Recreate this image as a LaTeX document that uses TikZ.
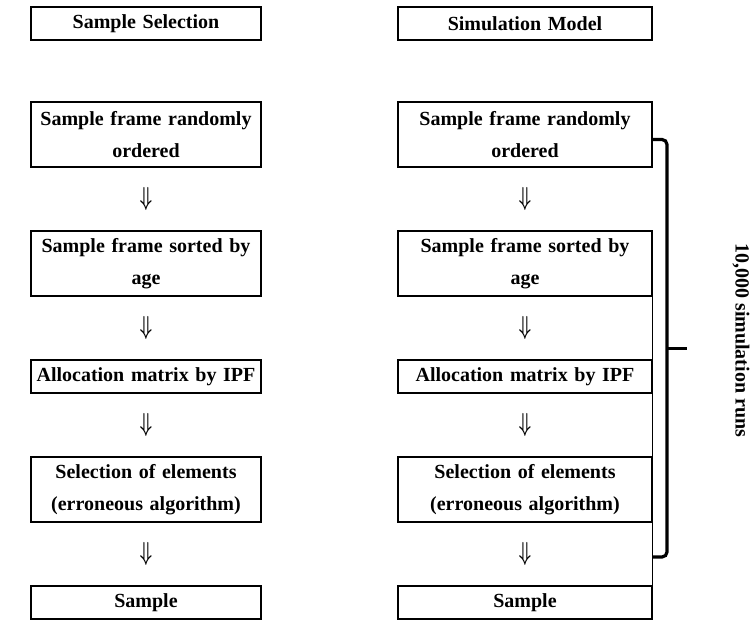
\documentclass[tikz,border=0pt]{standalone}
\usepackage{fontspec}
\setmainfont{Liberation Serif}
\usepackage{graphicx}
\usepackage{tikz}
\usetikzlibrary{calc}
\usetikzlibrary{positioning}
\newcommand{\dn}{{\fontsize{24}{24}\selectfont\boldmath\scalebox{0.7}[1.05]{$\Downarrow$}}}
\tikzset{
  stepbox/.style={draw,line width=1.6pt,outer sep=0pt,align=center,
    inner xsep=2pt,inner ysep=3pt,minimum height=33pt,
    font=\bfseries\fontsize{20}{32}\selectfont},
  tallbox/.style={minimum height=65pt},
  lcol/.style={text width=226pt},
  rcol/.style={text width=250pt},
  dnarrow/.style={minimum height=24pt,inner sep=0pt,outer sep=0pt},
  brace/.style={line width=3.2pt,rounded corners=5pt}
}

\begin{document}
\begin{tikzpicture}[x=1pt,y=-1pt]
        \useasboundingbox (0,0) rectangle (753,620);
        % left column
        \node[stepbox,lcol] (lh) at (146,23.5) {Sample Selection};
        \node[stepbox,lcol,tallbox,below=62pt of lh] (l1) {Sample frame randomly\\ordered};
        \node[dnarrow,below=20pt of l1] (la1) {\dn};
        \node[stepbox,lcol,tallbox,below=20pt of la1] (l2) {Sample frame sorted by\\age};
        \node[dnarrow,below=20pt of l2] (la2) {\dn};
        \node[stepbox,lcol,below=20pt of la2] (l3) {Allocation matrix by IPF};
        \node[dnarrow,below=20pt of l3] (la3) {\dn};
        \node[stepbox,lcol,tallbox,below=20pt of la3] (l4) {Selection of elements\\(erroneous algorithm)};
        \node[dnarrow,below=20pt of l4] (la4) {\dn};
        \node[stepbox,lcol,below=20pt of la4] (l5) {Sample};
        % right column
        \node[stepbox,rcol] (rh) at (525,23.5) {Simulation Model};
        \node[stepbox,rcol,tallbox,below=62pt of rh] (r1) {Sample frame randomly\\ordered};
        \node[dnarrow,below=20pt of r1] (ra1) {\dn};
        \node[stepbox,rcol,tallbox,below=20pt of ra1] (r2) {Sample frame sorted by\\age};
        \node[dnarrow,below=20pt of r2] (ra2) {\dn};
        \node[stepbox,rcol,below=20pt of ra2] (r3) {Allocation matrix by IPF};
        \node[dnarrow,below=20pt of r3] (ra3) {\dn};
        \node[stepbox,rcol,tallbox,below=20pt of ra3] (r4) {Selection of elements\\(erroneous algorithm)};
        \node[dnarrow,below=20pt of r4] (ra4) {\dn};
        \node[stepbox,rcol,below=20pt of ra4] (r5) {Sample};
        \draw[line width=0.5pt] (r2.north east) -- (r5.south east);
        % brace
        \draw[brace] ([yshift=-5pt]r1.east) -- ++(15,0) coordinate (bt)
          -- ([yshift=-3pt]bt |- ra4) coordinate (bb) -- ([yshift=-3pt]r1.east |- ra4);
        \coordinate (bm) at ($(bt)!0.5!(bb)$);
        \draw[brace] (bm) -- ++(20,0);
        \node[rotate=-90,font=\bfseries\fontsize{20}{24}\selectfont] (runs)
          at ($(bm)+(74,-8)$) {10,000 simulation runs};
\end{tikzpicture}
\end{document}
